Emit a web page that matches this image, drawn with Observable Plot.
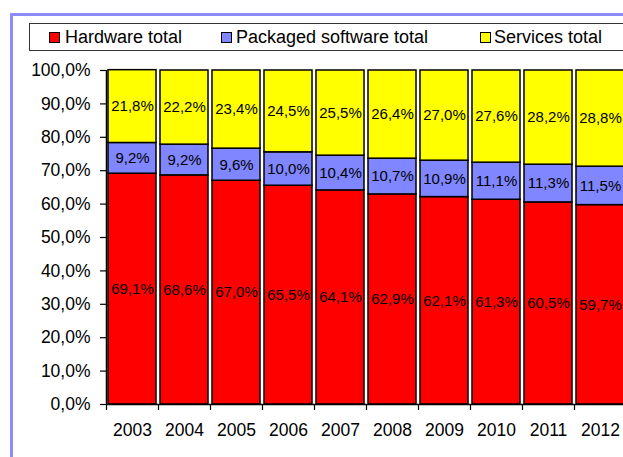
<!DOCTYPE html>
<html>
<head>
<meta charset="utf-8">
<script src="https://cdn.jsdelivr.net/npm/d3@7"></script>
<script src="https://cdn.jsdelivr.net/npm/@observablehq/plot@0.6"></script>
<style>
html, body { margin: 0; padding: 0; background: #fff; overflow: hidden; width: 623px; height: 457px; }
#wrap { position: relative; width: 623px; height: 457px; overflow: hidden; font-family: Arial, "Liberation Sans", sans-serif; }
#border { position: absolute; left: 10px; top: 13px; width: 800px; height: 600px; border-left: 3px solid #8c8cff; border-top: 3px solid #8c8cff; }
#legend { position: absolute; left: 29px; top: 23px; width: 800px; height: 26px; border: 1.5px solid #333; background: #fff; }
.sw { position: absolute; top: 32px; width: 9px; height: 9px; border: 1px solid #000; }
.lt { position: absolute; top: 27px; font-size: 18px; line-height: 20px; color: #000; white-space: nowrap; }
#chart { position: absolute; left: 0; top: 0; }
</style>
</head>
<body>
<div id="wrap">
  <div id="border"></div>
  <div id="legend"></div>
  <div id="chart"></div>
</div>
<script>
const years = ["2003","2004","2005","2006","2007","2008","2009","2010","2011","2012"];
const seriesNames = ["Hardware total", "Packaged software total", "Services total"];
const seriesColors = ["#ff0000", "#7f86ff", "#ffff00"];
const hardware = [69.1, 68.6, 67.0, 65.5, 64.1, 62.9, 62.1, 61.3, 60.5, 59.7];
const software = [9.2, 9.2, 9.6, 10.0, 10.4, 10.7, 10.9, 11.1, 11.3, 11.5];
const services = [21.8, 22.2, 23.4, 24.5, 25.5, 26.4, 27.0, 27.6, 28.2, 28.8];
const yTicks = [0, 0.1, 0.2, 0.3, 0.4, 0.5, 0.6, 0.7, 0.8, 0.9, 1.0];

const seriesValues = [hardware, software, services];
const data = [];
seriesNames.forEach((s, si) => {
  years.forEach((y, i) => data.push({year: y, series: s, value: seriesValues[si][i] / 100}));
});

const pctFmt = v => d3.format(".1f")(v * 100).replace(".", ",") + "%";

// legend
const legendPos = [[49, 65], [221, 236], [480, 494]];
const wrap = document.getElementById("wrap");
seriesNames.forEach((s, i) => {
  const sw = document.createElement("div");
  sw.className = "sw";
  sw.style.left = legendPos[i][0] + "px";
  sw.style.background = seriesColors[i];
  wrap.appendChild(sw);
  const t = document.createElement("div");
  t.className = "lt";
  t.style.left = legendPos[i][1] + "px";
  t.textContent = s;
  wrap.appendChild(t);
});

const xRange = [105.8, 625.8];
const step = (xRange[1] - xRange[0]) / years.length;

const chart = Plot.plot({
  width: 623,
  height: 457,
  marginTop: 70,
  marginBottom: 53,
  marginLeft: 106,
  marginRight: 0,
  style: {background: "transparent", fontFamily: "Arial, 'Liberation Sans', sans-serif", color: "#000", overflow: "visible"},
  x: {domain: years, range: xRange, paddingInner: 0.085, paddingOuter: 0.0425, label: null},
  y: {domain: [0, 1], label: null},
  color: {domain: seriesNames, range: seriesColors},
  marks: [
    Plot.barY(data, {x: "year", y: "value", fill: "series", stroke: "#000", strokeWidth: 1.5}),
    Plot.text(data, Plot.stackY({x: "year", y: "value", z: "series", text: d => pctFmt(d.value), fontSize: 15, fill: "#000"})),
    Plot.ruleY([0], {stroke: "#000", strokeWidth: 1.5}),
    Plot.ruleX([years[0]], {dx: -step / 2, stroke: "#000", strokeWidth: 1.5}),
    Plot.axisY({ticks: yTicks, tickFormat: pctFmt, tickSize: 6, tickPadding: 10, fontSize: 17.5, stroke: "#000", strokeWidth: 1.2, label: null}),
    Plot.axisX({tickSize: 6, tickFormat: () => "", dx: -step / 2, stroke: "#000", strokeWidth: 1.2, label: null}),
    Plot.axisX({tickSize: 0, tickPadding: 19, fontSize: 17.5, label: null})
  ]
});
document.getElementById("chart").appendChild(chart);
</script>
</body>
</html>
